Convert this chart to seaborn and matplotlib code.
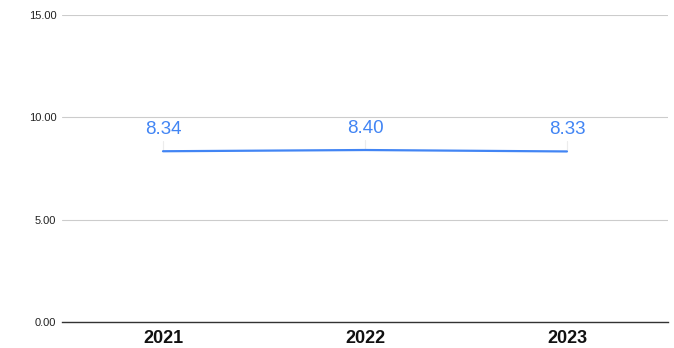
import pandas as pd
import seaborn as sns
import matplotlib.pyplot as plt

# Chart data
years = ["2021", "2022", "2023"]
values = [8.34, 8.40, 8.33]
y_ticks = [0, 5, 10, 15]

df = pd.DataFrame({"year": years, "value": values})

sns.set_style("white")
plt.rcParams["font.family"] = ["Liberation Sans", "DejaVu Sans"]

fig = plt.figure(figsize=(6.74, 3.48), dpi=100)
ax = fig.add_axes([0.092, 0.075, 0.899, 0.882])

line_color = "#4285F4"
sns.lineplot(data=df, x="year", y="value", ax=ax, color=line_color, linewidth=1.6, sort=False)

# value labels with faint leader lines
for i, v in enumerate(values):
    ax.plot([i, i], [v, v + 0.5], color="#ececec", linewidth=0.8, zorder=1)
    ax.annotate(f"{v:.2f}", (i, v), xytext=(0, 9.5), textcoords="offset points",
                ha="center", va="bottom", color=line_color, fontsize=13.5)

ax.set_xlim(-0.5, 2.5)
ax.set_ylim(0, 15)
ax.set_yticks(y_ticks)
ax.set_yticklabels([f"{t:.2f}" for t in y_ticks], fontsize=8, color="#222222")
ax.set_xticks(range(len(years)))
ax.set_xticklabels(years, fontsize=13, fontweight="bold", color="#111111")
ax.tick_params(axis="both", length=0, pad=4)
ax.tick_params(axis="x", pad=6)
ax.set_xlabel("")
ax.set_ylabel("")

ax.grid(axis="y", color="#cccccc", linewidth=0.8)
ax.set_axisbelow(True)
for side in ["top", "right", "left"]:
    ax.spines[side].set_visible(False)
ax.spines["bottom"].set_color("#333333")
ax.spines["bottom"].set_linewidth(1.0)

fig.savefig("out.png", dpi=100)
